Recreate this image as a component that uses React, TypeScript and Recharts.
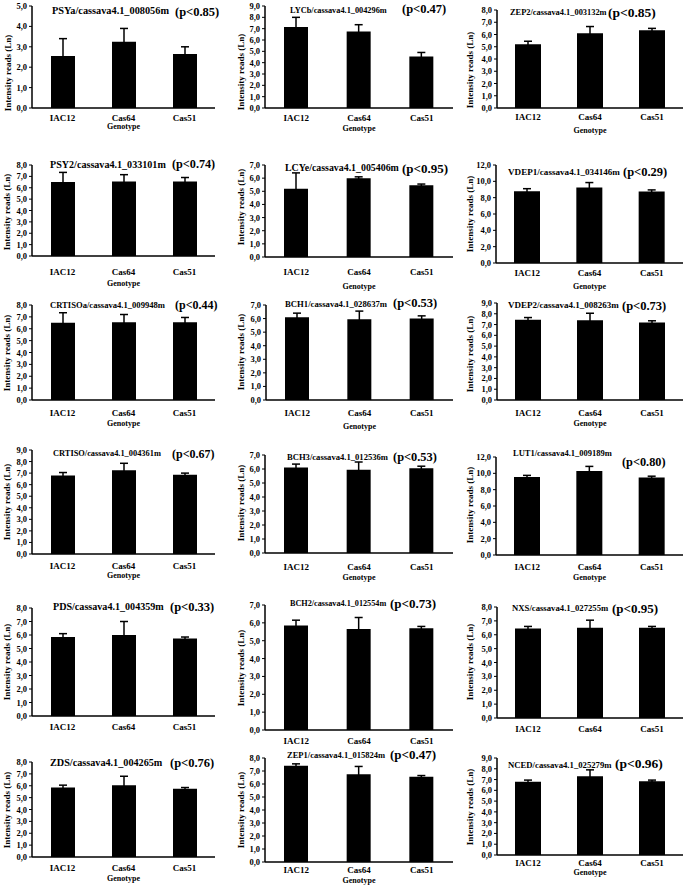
import React from 'react';
import { BarChart, Bar, XAxis, YAxis, ErrorBar, Label } from 'recharts';

// ---------- data ----------
const categories = ['IAC12', 'Cas64', 'Cas51'];

const psyaMean = [2.55, 3.25, 2.65];
const psyaTop = [3.4, 3.9, 3.0];
const lycbMean = [7.15, 6.75, 4.55];
const lycbTop = [8.0, 7.35, 4.9];
const zep2Mean = [5.2, 6.1, 6.35];
const zep2Top = [5.45, 6.65, 6.5];
const psy2Mean = [6.5, 6.55, 6.55];
const psy2Top = [7.35, 7.15, 6.9];
const lcyeMean = [5.2, 6.0, 5.45];
const lcyeTop = [6.4, 6.1, 5.55];
const vdep1Mean = [8.8, 9.25, 8.75];
const vdep1Top = [9.1, 9.85, 8.95];
const crtisoaMean = [6.5, 6.55, 6.55];
const crtisoaTop = [7.35, 7.2, 6.95];
const bch1Mean = [6.1, 5.95, 6.0];
const bch1Top = [6.4, 6.55, 6.2];
const vdep2Mean = [7.45, 7.4, 7.2];
const vdep2Top = [7.65, 8.05, 7.35];
const crtisoMean = [6.8, 7.25, 6.85];
const crtisoTop = [7.05, 7.85, 7.0];
const bch3Mean = [6.1, 5.95, 6.05];
const bch3Top = [6.35, 6.5, 6.2];
const lut1Mean = [9.55, 10.3, 9.5];
const lut1Top = [9.75, 10.85, 9.65];
const pdsMean = [5.85, 6.0, 5.75];
const pdsTop = [6.1, 7.0, 5.85];
const bch2Mean = [5.85, 5.65, 5.7];
const bch2Top = [6.15, 6.3, 5.8];
const nxsMean = [6.45, 6.5, 6.5];
const nxsTop = [6.6, 7.05, 6.6];
const zdsMean = [5.85, 6.05, 5.75];
const zdsTop = [6.05, 6.8, 5.85];
const zep1Mean = [7.4, 6.75, 6.55];
const zep1Top = [7.55, 7.35, 6.65];
const ncedMean = [6.8, 7.3, 6.85];
const ncedTop = [6.95, 7.9, 6.95];

const geneNames = [
  'PSYa/cassava4.1_008056m', 'LYCb/cassava4.1_004296m', 'ZEP2/cassava4.1_003132m',
  'PSY2/cassava4.1_033101m', 'LCYe/cassava4.1_005406m', 'VDEP1/cassava4.1_034146m',
  'CRTISOa/cassava4.1_009948m', 'BCH1/cassava4.1_028637m', 'VDEP2/cassava4.1_008263m',
  'CRTISO/cassava4.1_004361m', 'BCH3/cassava4.1_012536m', 'LUT1/cassava4.1_009189m',
  'PDS/cassava4.1_004359m', 'BCH2/cassava4.1_012554m', 'NXS/cassava4.1_027255m',
  'ZDS/cassava4.1_004265m', 'ZEP1/cassava4.1_015824m', 'NCED/cassava4.1_025279m',
];
const pLabels = [
  '(p<0.85)', '(p<0.47)', '(p<0.85)',
  '(p<0.74)', '(p<0.95)', '(p<0.29)',
  '(p<0.44)', '(p<0.53)', '(p<0.73)',
  '(p<0.67)', '(p<0.53)', '(p<0.80)',
  '(p<0.33)', '(p<0.73)', '(p<0.95)',
  '(p<0.76)', '(p<0.47)', '(p<0.96)',
];
const means = [psyaMean, lycbMean, zep2Mean, psy2Mean, lcyeMean, vdep1Mean, crtisoaMean, bch1Mean, vdep2Mean,
  crtisoMean, bch3Mean, lut1Mean, pdsMean, bch2Mean, nxsMean, zdsMean, zep1Mean, ncedMean];
const tops = [psyaTop, lycbTop, zep2Top, psy2Top, lcyeTop, vdep1Top, crtisoaTop, bch1Top, vdep2Top,
  crtisoTop, bch3Top, lut1Top, pdsTop, bch2Top, nxsTop, zdsTop, zep1Top, ncedTop];
const yMax = [5, 9, 8, 8, 7, 12, 8, 7, 9, 9, 7, 12, 8, 7, 8, 8, 8, 9];
const yStep = [1, 1, 1, 1, 1, 2, 1, 1, 1, 1, 1, 2, 1, 1, 1, 1, 1, 1];

// ---------- layout (page pixels) ----------
// axisX, topY, bottomY, rightX, labY, genY (0 = none), ylX, ylY, barSize
const layouts: number[][] = [
  [32, 6, 108, 215, 118, 126, 8, 73, 24],
  [265, 6, 108, 453, 118, 128, 241, 72, 24],
  [497, 10, 108, 683, 117, 130, 470, 70, 26],
  [32, 165, 256, 215, 272, 283, 7, 212, 24],
  [265, 165, 257, 453, 272, 286, 241, 207, 24],
  [496, 165, 263, 683, 273, 286, 470, 214, 26],
  [32, 305, 400, 215, 413, 423, 7, 353, 24],
  [266, 305, 400, 453, 413, 426, 241, 352, 24],
  [497, 303, 400, 683, 413, 423, 470, 354, 26],
  [32, 450, 554, 215, 566, 575, 7, 502, 24],
  [265, 455, 553, 453, 567, 577, 241, 503, 24],
  [496, 457, 555, 683, 567, 577, 470, 505, 26],
  [32, 608, 716, 215, 727, 0, 7, 662, 24],
  [265, 605, 730, 453, 741, 0, 241, 668, 24],
  [497, 607, 718, 683, 729, 0, 470, 662, 26],
  [32, 762, 857, 215, 868, 878, 7, 810, 24],
  [265, 758, 862, 453, 870, 880, 241, 810, 24],
  [497, 758, 855, 683, 863, 872, 470, 807, 26],
];
// gene x, gene y, gene size, p x, p y, p size
const titles: number[][] = [
  [52, 11, 10.3, 175, 12, 12.5],
  [290, 11, 8.3, 402, 9, 12.5],
  [510, 13, 8.4, 608, 13, 13.5],
  [50, 165, 10.1, 172, 164, 12.2],
  [285, 168, 9.9, 402, 168, 13],
  [508, 173, 9.1, 623, 172, 12.5],
  [50, 305, 8.6, 175, 305, 12],
  [285, 304, 8.7, 393, 303, 12.5],
  [508, 305, 9.0, 622, 306, 12.5],
  [53, 454, 8.4, 172, 454, 12],
  [287, 457, 8.6, 393, 457, 12.4],
  [513, 453, 8.5, 622, 462, 12.3],
  [53, 607, 10.1, 170, 607, 12.5],
  [290, 604, 8.2, 390, 603, 13],
  [512, 608, 8.7, 612, 608, 13],
  [50, 763, 10.2, 170, 763, 12.5],
  [287, 755, 8.5, 390, 754, 13],
  [508, 765, 8.7, 615, 764, 13.5],
];

const FONT = '"Liberation Serif", "Times New Roman", serif';
const Y_AXIS_W = 32;
const M_TOP = 5;

const fmt = (v: number) => v.toFixed(1).replace('.', ',');

function Panel({ i }: { i: number }) {
  const [axisX, topY, bottomY, rightX, labY, genY, ylX, ylY, barSize] = layouts[i];
  const left = axisX - Y_AXIS_W;
  const top = topY - M_TOP;
  const xAxisH = Math.max(labY, genY) + 8 - bottomY;
  const width = rightX - left + 2;
  const height = bottomY - topY + M_TOP + xAxisH;
  const data = categories.map((c, k) => ({
    name: c,
    mean: means[i][k],
    err: +(tops[i][k] - means[i][k]).toFixed(3),
  }));
  const ticks: number[] = [];
  for (let v = 0; v <= yMax[i] + 1e-9; v += yStep[i]) ticks.push(v);

  const xTick = (p: any) => (
    <text x={p.x} y={labY - top} dy="0.35em" textAnchor="middle" fontSize={9} fontWeight="bold"
      fontFamily={FONT} fill="#000">{p.payload.value}</text>
  );
  const yLabel = () => (
    <text x={ylX - left} y={ylY - top} dy="0.35em" textAnchor="middle" fontSize={9} fontWeight="bold"
      fontFamily={FONT} fill="#000" transform={`rotate(-90 ${ylX - left} ${ylY - top})`}>Intensity reads (Ln)</text>
  );
  const genLabel = (p: any) => {
    const vb = p.viewBox || {};
    const cx = (vb.x ?? Y_AXIS_W) + (vb.width ?? 0) / 2;
    return (
      <text x={cx} y={genY - top} dy="0.35em" textAnchor="middle" fontSize={8} fontWeight="bold"
        fontFamily={FONT} fill="#000">Genotype</text>
    );
  };

  return (
    <div style={{ position: 'absolute', left, top, width, height }}>
      <BarChart width={width} height={height} data={data} margin={{ top: M_TOP, right: 2, left: 0, bottom: 0 }}>
        <XAxis dataKey="name" height={xAxisH} axisLine={{ stroke: '#000', strokeWidth: 1.5 }} tickLine={false}
          tickSize={0} tick={xTick} interval={0}>
          {genY > 0 && <Label content={genLabel} />}
        </XAxis>
        <YAxis width={Y_AXIS_W} domain={[0, yMax[i]]} ticks={ticks} interval={0} tickFormatter={fmt}
          axisLine={{ stroke: '#000', strokeWidth: 1.5 }} tickLine={{ stroke: '#000' }} tickSize={3} tickMargin={2}
          tick={{ fontSize: 8.5, fontWeight: 'bold', fill: '#000', fontFamily: FONT }}>
          <Label content={yLabel} />
        </YAxis>
        <Bar dataKey="mean" fill="#000" barSize={barSize} isAnimationActive={false}>
          <ErrorBar dataKey="err" direction="y" width={4} stroke="#000" strokeWidth={1.5} isAnimationActive={false} />
        </Bar>
      </BarChart>
    </div>
  );
}

function Title({ i }: { i: number }) {
  const [gx, gy, gs, px, py, ps] = titles[i];
  const base: React.CSSProperties = {
    position: 'absolute', whiteSpace: 'nowrap', fontFamily: FONT, fontWeight: 'bold', color: '#000',
  };
  return (
    <>
      <div style={{ ...base, left: gx, top: gy - gs / 2, fontSize: gs, lineHeight: `${gs}px` }}>{geneNames[i]}</div>
      <div style={{ ...base, left: px, top: py - ps / 2, fontSize: ps, lineHeight: `${ps}px` }}>{pLabels[i]}</div>
    </>
  );
}

export default function App() {
  return (
    <div style={{ position: 'absolute', left: 0, top: 0, width: 685, height: 890, background: '#fff', overflow: 'hidden' }}>
      {layouts.map((_, i) => <Panel key={'p' + i} i={i} />)}
      {layouts.map((_, i) => <Title key={'t' + i} i={i} />)}
    </div>
  );
}
